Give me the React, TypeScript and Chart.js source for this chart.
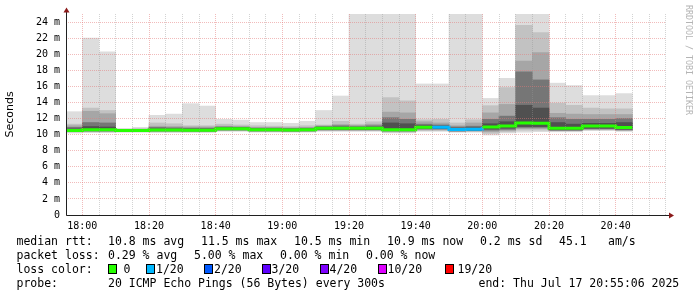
import React, { useEffect, useRef } from 'react';
import { Chart, registerables } from 'chart.js';

Chart.register(...registerables);

// ---- time slots (5-minute steps, start of each step) ----
const slotStarts = [
  '17:55', '18:00', '18:05', '18:10', '18:15', '18:20', '18:25', '18:30', '18:35', '18:40',
  '18:45', '18:50', '18:55', '19:00', '19:05', '19:10', '19:15', '19:20', '19:25', '19:30',
  '19:35', '19:40', '19:45', '19:50', '19:55', '20:00', '20:05', '20:10', '20:15', '20:20',
  '20:25', '20:30', '20:35', '20:40',
];
const windowStart = '17:55:06';
const windowEnd = '20:55:06';

// ---- median rtt (ms) ----
const medianRtt = [
  10.5, 10.6, 10.6, 10.5, 10.5, 10.57, 10.57, 10.55, 10.55, 10.74,
  10.74, 10.6, 10.6, 10.57, 10.61, 10.78, 10.78, 10.78, 10.78, 10.6,
  10.61, 10.92, 10.92, 10.63, 10.67, 10.94, 11.06, 11.44, 11.41, 10.78,
  10.8, 11.06, 11.06, 10.87,
];
// ---- lost pings out of 20 ----
const lossCount = [
  0, 0, 0, 0, 0, 0, 0, 0, 0, 0,
  0, 0, 0, 0, 0, 0, 0, 0, 0, 0,
  0, 0, 1, 1, 1, 0, 0, 0, 0, 0,
  0, 0, 0, 0,
];

// ---- smoke bands (sorted ping rtt, ms) ----
const smokeMax = [
  12.85, 22.0, 20.3, 10.75, 10.9, 12.4, 12.55, 13.85, 13.55, 11.9,
  11.8, 11.5, 11.5, 11.4, 11.65, 13.0, 14.8, 32.0, 35.0, 38.0,
  30.0, 16.3, 16.3, 33.0, 29.0, 14.5, 17.0, 40.0, 31.0, 16.4,
  16.1, 14.85, 14.85, 15.1,
];
const smokeHi2 = [
  11.3, 13.3, 13.0, 10.68, 10.75, 11.45, 11.35, 11.1, 11.1, 11.3,
  11.2, 11.1, 11.05, 11.0, 11.1, 11.2, 11.65, 11.3, 11.6, 14.6,
  14.2, 11.85, 11.9, 11.45, 11.85, 13.6, 15.85, 23.6, 22.7, 13.9,
  13.65, 13.3, 13.2, 13.2,
];
const smokeHi3 = [
  11.1, 12.9, 12.6, 10.64, 10.66, 11.05, 11.0, 10.95, 10.95, 11.05,
  11.0, 10.9, 10.9, 10.85, 10.9, 11.1, 11.25, 11.15, 11.3, 12.8,
  12.7, 11.6, 11.45, 11.1, 11.45, 12.7, 13.75, 19.15, 20.2, 12.65,
  12.55, 12.5, 12.5, 12.5,
];
const smokeHi4 = [
  10.9, 11.5, 11.45, 10.6, 10.6, 10.9, 10.85, 10.8, 10.8, 10.95,
  10.92, 10.8, 10.8, 10.75, 10.8, 11.0, 11.1, 11.0, 11.1, 12.1,
  11.9, 11.3, 11.2, 10.95, 11.05, 11.9, 12.3, 17.8, 16.8, 12.1,
  11.9, 11.9, 11.9, 12.0,
];
const smokeHi5 = [
  10.7, 11.0, 10.95, 10.56, 10.56, 10.7, 10.7, 10.68, 10.68, 10.85,
  10.85, 10.7, 10.7, 10.68, 10.7, 10.9, 10.92, 10.9, 10.92, 11.45,
  11.35, 11.1, 11.05, 10.8, 10.85, 11.35, 11.6, 13.65, 13.3, 11.5,
  11.3, 11.4, 11.4, 11.5,
];
const smokeLo5 = [
  10.45, 10.5, 10.5, 10.45, 10.45, 10.5, 10.5, 10.48, 10.48, 10.62,
  10.62, 10.5, 10.5, 10.48, 10.5, 10.65, 10.65, 10.65, 10.65, 10.5,
  10.5, 10.8, 10.75, 10.5, 10.55, 10.7, 10.8, 11.0, 11.0, 10.6,
  10.6, 10.8, 10.8, 10.68,
];
const smokeLo4 = [
  10.42, 10.45, 10.45, 10.42, 10.42, 10.45, 10.45, 10.44, 10.44, 10.58,
  10.58, 10.46, 10.46, 10.44, 10.46, 10.6, 10.6, 10.6, 10.6, 10.45,
  10.45, 10.7, 10.7, 10.45, 10.5, 10.55, 10.65, 10.9, 10.9, 10.55,
  10.55, 10.72, 10.72, 10.6,
];
const smokeLo3 = [
  10.38, 10.4, 10.4, 10.4, 10.4, 10.4, 10.4, 10.4, 10.4, 10.54,
  10.54, 10.42, 10.42, 10.4, 10.42, 10.55, 10.55, 10.55, 10.55, 10.4,
  10.4, 10.6, 10.6, 10.4, 10.45, 10.35, 10.5, 10.75, 10.75, 10.5,
  10.5, 10.65, 10.65, 10.54,
];
const smokeLo2 = [
  10.32, 10.35, 10.35, 10.36, 10.36, 10.35, 10.35, 10.35, 10.35, 10.5,
  10.5, 10.38, 10.38, 10.36, 10.38, 10.5, 10.5, 10.5, 10.5, 10.3,
  10.3, 10.5, 10.5, 10.35, 10.4, 10.15, 10.35, 10.55, 10.55, 10.45,
  10.45, 10.58, 10.58, 10.48,
];
const smokeMin = [
  10.2, 10.25, 10.25, 10.28, 10.28, 10.25, 10.25, 10.25, 10.25, 10.4,
  10.4, 10.3, 10.3, 10.28, 10.3, 10.4, 10.4, 10.4, 10.4, 10.2,
  10.2, 10.4, 10.4, 10.3, 10.3, 9.95, 10.2, 10.3, 10.35, 10.35,
  10.35, 10.5, 10.5, 10.4,
];

// ---- axis labels ----
const xTickLabels = ['18:00', '18:20', '18:40', '19:00', '19:20', '19:40', '20:00', '20:20', '20:40'];
const yTickLabels = ['0', '2 m', '4 m', '6 m', '8 m', '10 m', '12 m', '14 m', '16 m', '18 m', '20 m', '22 m', '24 m'];
const yMin = 0;
const yMax = 25;

// ---- loss legend ----
const lossSteps = [0, 1, 2, 3, 4, 10, 19];
const lossLabels = ['0', '1/20', '2/20', '3/20', '4/20', '10/20', '19/20'];
const lossColors = ['#26ff00', '#00b8ff', '#0059ff', '#5e00ff', '#7e00ff', '#dd00ff', '#ff0000'];

const MONO = "'DejaVu Sans Mono', monospace";
const MAJOR_GRID = 'rgba(228,120,120,0.5)';
const MINOR_GRID = 'rgba(150,150,150,0.42)';

const toMinutes = (s: string) => {
  const p = s.split(':').map(Number);
  return p[0] * 60 + p[1] + (p[2] || 0) / 60;
};
const fmt = (v: number) => {
  const m = Math.round(v);
  return `${Math.floor(m / 60)}:${String(m % 60).padStart(2, '0')}`;
};
const lossColorFor = (n: number) => {
  let c = lossColors[0];
  lossSteps.forEach((s, i) => { if (n >= s) c = lossColors[i]; });
  return c;
};

const step = toMinutes(slotStarts[1]) - toMinutes(slotStarts[0]);

const bands = [
  { lo: smokeMin, hi: smokeMax, color: '#dddddd' },
  { lo: smokeLo2, hi: smokeHi2, color: '#c2c2c2' },
  { lo: smokeLo3, hi: smokeHi3, color: '#a6a6a6' },
  { lo: smokeLo4, hi: smokeHi4, color: '#767676' },
  { lo: smokeLo5, hi: smokeHi5, color: '#505050' },
];

const axesPlugin = {
  id: 'rrdAxes',
  afterDraw(chart: any) {
    const { ctx, chartArea: a } = chart;
    ctx.save();
    ctx.strokeStyle = '#202020';
    ctx.lineWidth = 1;
    ctx.beginPath();
    ctx.moveTo(a.left + 0.5, a.bottom + 0.5);
    ctx.lineTo(a.right + 3, a.bottom + 0.5);
    ctx.moveTo(a.left + 0.5, a.bottom + 0.5);
    ctx.lineTo(a.left + 0.5, a.top - 2);
    ctx.stroke();
    ctx.fillStyle = '#8b1a1a';
    ctx.beginPath();
    ctx.moveTo(a.right + 3, a.bottom - 2.5);
    ctx.lineTo(a.right + 8, a.bottom + 0.5);
    ctx.lineTo(a.right + 3, a.bottom + 3.5);
    ctx.closePath();
    ctx.fill();
    ctx.beginPath();
    ctx.moveTo(a.left - 2.5, a.top - 1.5);
    ctx.lineTo(a.left + 0.5, a.top - 6.5);
    ctx.lineTo(a.left + 3.5, a.top - 1.5);
    ctx.closePath();
    ctx.fill();
    ctx.restore();
  },
};

const legendLines: { top: number; items: [number, string][] }[] = [
  { top: 234, items: [[16.5, 'median rtt:'], [108, '10.8 ms avg'], [201, '11.5 ms max'], [294, '10.5 ms min'], [387, '10.9 ms now'], [480, '0.2 ms sd'], [559, '45.1'], [608, 'am/s']] },
  { top: 248, items: [[16.5, 'packet loss:'], [108, '0.29 % avg'], [194, '5.00 % max'], [280, '0.00 % min'], [366, '0.00 % now']] },
  { top: 262, items: [[16.5, 'loss color:']] },
  { top: 276, items: [[16.5, 'probe:'], [108, '20 ICMP Echo Pings (56 Bytes) every 300s'], [478.5, 'end: Thu Jul 17 20:55:06 2025']] },
];
const lossBoxX = [108, 146, 204, 262, 319.5, 377.5, 445];
const lossTextX = [123.5, 156, 214, 271.5, 329.5, 387.5, 457.5];

export default function App() {
  const ref = useRef<HTMLCanvasElement>(null);

  useEffect(() => {
    const medianPoints = slotStarts.map((s, i) => ({ x: toMinutes(s), y: medianRtt[i] }));
    medianPoints.push({ x: toMinutes(slotStarts[slotStarts.length - 1]) + step, y: medianRtt[medianRtt.length - 1] });

    const datasets: any[] = [
      {
        type: 'line',
        data: medianPoints,
        borderColor: lossColors[0],
        borderWidth: 3,
        borderCapStyle: 'butt',
        pointRadius: 0,
        stepped: true,
        tension: 0,
        order: 0,
        clip: 0,
        segment: { borderColor: (c: any) => lossColorFor(lossCount[c.p0DataIndex] ?? 0) },
      },
      ...bands.map((b, k) => ({
        type: 'bar',
        data: slotStarts.map((s, i) => ({ x: toMinutes(s) + step / 2, y: [b.lo[i], b.hi[i]] })),
        backgroundColor: b.color,
        borderWidth: 0,
        grouped: false,
        barPercentage: 1,
        categoryPercentage: 1,
        order: bands.length - k,
        clip: 0,
      })),
    ];

    const chart = new Chart(ref.current as HTMLCanvasElement, {
      type: 'bar',
      data: { datasets },
      options: {
        responsive: false,
        maintainAspectRatio: false,
        animation: false,
        events: [],
        layout: { padding: { left: 0, top: 14, right: 31, bottom: 62 } },
        plugins: { legend: { display: false }, tooltip: { enabled: false } },
        scales: {
          x: {
            type: 'linear',
            min: toMinutes(windowStart),
            max: toMinutes(windowEnd),
            offset: false,
            afterBuildTicks: (axis: any) => {
              const t: any[] = [];
              for (let v = Math.ceil(axis.min / step) * step; v <= axis.max; v += step) t.push({ value: v });
              axis.ticks = t;
            },
            afterFit: (s: any) => { s.height = 20; },
            grid: {
              z: 1,
              offset: false,
              drawTicks: false,
              lineWidth: 1,
              color: (c: any) => (c.tick && Math.round(c.tick.value) % 20 === 0 ? MAJOR_GRID : MINOR_GRID),
            },
            border: { display: false, dash: [1, 1] },
            ticks: {
              autoSkip: false,
              maxRotation: 0,
              minRotation: 0,
              padding: 5,
              color: '#000',
              font: { family: MONO, size: 10 },
              callback: (v: any) => { const s = fmt(Number(v)); return xTickLabels.includes(s) ? s : ''; },
            },
          },
          y: {
            min: yMin,
            max: yMax,
            afterBuildTicks: (axis: any) => {
              const t: any[] = [];
              for (let v = yMin; v < yMax; v += 1) t.push({ value: v });
              axis.ticks = t;
            },
            afterFit: (s: any) => { s.width = 66; },
            grid: {
              z: 1,
              drawTicks: false,
              lineWidth: 1,
              color: (c: any) => (c.tick && c.tick.value % 2 === 0 ? MAJOR_GRID : MINOR_GRID),
            },
            border: { display: false, dash: [1, 1] },
            title: {
              display: true,
              text: 'Seconds',
              color: '#000',
              font: { family: "'DejaVu Sans', sans-serif", size: 11 },
              padding: { top: 4, bottom: 0 },
            },
            ticks: {
              padding: 6,
              color: '#000',
              font: { family: MONO, size: 10 },
              callback: (v: any) => (Number(v) % 2 === 0 ? yTickLabels[Number(v) / 2] : ''),
            },
          },
        },
      } as any,
      plugins: [axesPlugin],
    } as any);
    return () => chart.destroy();
  }, []);

  const textStyle = (left: number, top: number): React.CSSProperties => ({
    position: 'absolute',
    left,
    top,
    font: `11.5px ${MONO}`,
    lineHeight: '14px',
    whiteSpace: 'pre',
    color: '#000',
  });

  return (
    <div style={{ position: 'fixed', left: 0, top: 0, width: 697, height: 297, background: '#fff', overflow: 'hidden' }}>
      <canvas ref={ref} width={697} height={297} style={{ position: 'absolute', left: 0, top: 0, width: 697, height: 297 }} />
      {legendLines.map((line, li) =>
        line.items.map(([x, t], ii) => (
          <div key={`${li}-${ii}`} style={textStyle(x, line.top)}>{t}</div>
        ))
      )}
      {lossLabels.map((lab, i) => (
        <React.Fragment key={lab}>
          <div style={{ position: 'absolute', left: lossBoxX[i], top: 264, width: 9, height: 10, boxSizing: 'border-box', border: '1px solid #000', background: lossColors[i] }} />
          <div style={textStyle(lossTextX[i], 262)}>{lab}</div>
        </React.Fragment>
      ))}
      <div style={{ position: 'absolute', left: 684, top: 5, writingMode: 'vertical-rl', font: `8.3px ${MONO}`, lineHeight: '9px', color: '#b4b4b4', whiteSpace: 'pre' }}>
        RRDTOOL / TOBI OETIKER
      </div>
    </div>
  );
}
